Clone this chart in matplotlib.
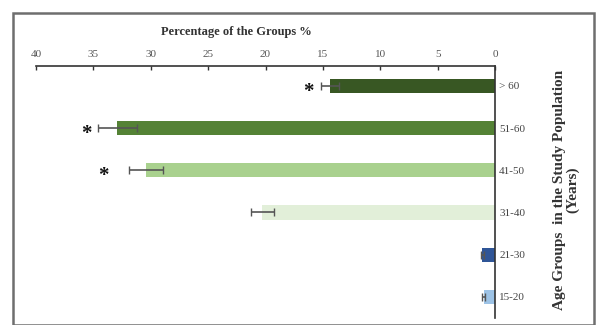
import matplotlib.pyplot as plt
from matplotlib.patches import Rectangle

age_groups = ["15-20", "21-30", "31-40", "41-50", "51-60", "> 60"]
percentages = [1.0, 1.1, 20.3, 30.4, 32.9, 14.4]
errors = [0.15, 0.15, 1.0, 1.5, 1.7, 0.8]
bar_colors = ["#9dc3e6", "#2f5597", "#e2efd9", "#a9d18e", "#548235", "#385723"]
significant = [False, False, False, True, True, True]
x_ticks = [40, 35, 30, 25, 20, 15, 10, 5, 0]

plt.rcParams["font.family"] = ["Liberation Serif", "DejaVu Serif"]

fig = plt.figure(figsize=(5.96, 3.25), dpi=100)
W, H = 596, 325

# outer frame
fig.patches.append(Rectangle((13 / W, 0.0), (594 - 13) / W, (H - 13) / H,
                             transform=fig.transFigure, fill=False,
                             edgecolor="#6e6e6e", linewidth=1.8))

ax = fig.add_axes([36 / W, 1 - 318 / H, (495 - 36) / W, (318 - 66) / H])

y = list(range(len(age_groups)))
ax.barh(y, percentages, height=0.34, color=bar_colors,
        xerr=errors, error_kw=dict(ecolor="#555555", elinewidth=1.2,
                                   capsize=3, capthick=1.0))

ax.set_xlim(40, 0)
ax.set_ylim(-0.5, 5.47)
ax.set_xticks(x_ticks)
ax.set_xticklabels([str(t) for t in x_ticks])
ax.xaxis.set_ticks_position("top")
ax.xaxis.set_label_position("top")
ax.tick_params(axis="x", direction="in", length=3, width=1, colors="#333333",
               labelsize=8, labelcolor="#555555", pad=5)
ax.set_xlabel("Percentage of the Groups %", fontsize=9, fontweight="bold",
              color="#333333", labelpad=11)
ax.xaxis.set_label_coords(0.436, 1.0 + 31 / 252)

ax.yaxis.set_ticks_position("right")
ax.set_yticks(y)
ax.set_yticklabels(age_groups)
ax.tick_params(axis="y", length=0, labelsize=8, labelcolor="#444444", pad=3)

for side in ("left", "bottom"):
    ax.spines[side].set_visible(False)
ax.spines["top"].set_color("#333333")
ax.spines["right"].set_color("#333333")
ax.spines["top"].set_linewidth(1.2)
ax.spines["right"].set_linewidth(1.2)

# significance markers, placed left of each error bar
star_gap = {3: 2.2, 4: 1.05, 5: 1.1}
for yi, val, err, sig in zip(y, percentages, errors, significant):
    if sig:
        ax.text(val + err + star_gap[yi], yi - 0.14, "*", ha="center",
                va="center", fontsize=15, fontweight="bold", color="#111111")

fig.text(566 / W, 1 - 190 / H, "Age Groups  in the Study Population\n(Years)",
         rotation=90, ha="center", va="center", fontsize=11,
         fontweight="bold", color="#333333", linespacing=1.05)

fig.savefig("out.png", dpi=100)
